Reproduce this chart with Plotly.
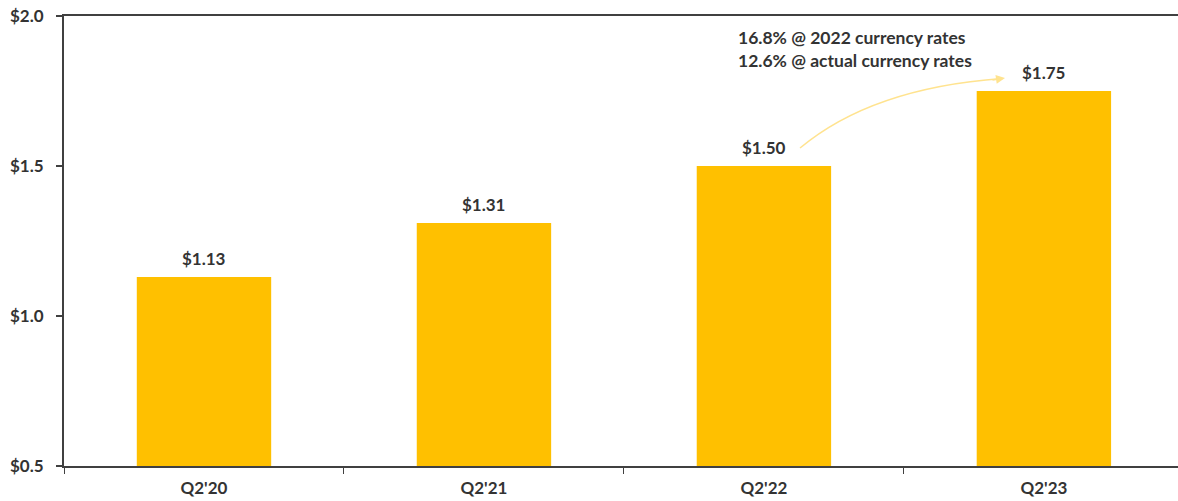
import plotly.graph_objects as go

categories = ["Q2'20", "Q2'21", "Q2'22", "Q2'23"]
values = [1.13, 1.31, 1.50, 1.75]
labels = ["$1.13", "$1.31", "$1.50", "$1.75"]
tick_vals = [0.5, 1.0, 1.5, 2.0]
tick_text = ["$0.5", "$1.0", "$1.5", "$2.0"]
note_lines = ["16.8% @ 2022 currency rates", "12.6% @ actual currency rates"]

FONT = "Lato, 'Open Sans', sans-serif"
TXT = "#333333"
BAR = "#FFC000"
ARROW = "#FFE38F"

fig = go.Figure()
fig.add_trace(go.Bar(
    x=categories, y=values, marker=dict(color=BAR, line=dict(width=0)),
    width=0.48, hoverinfo="skip",
))

for c, v, t in zip(categories, values, labels):
    fig.add_annotation(x=c, y=v, text=f"<b>{t}</b>", showarrow=False,
                       yanchor="bottom", yshift=6,
                       font=dict(family=FONT, size=17, color=TXT))

fig.add_annotation(xref="paper", yref="paper", x=0.603, y=0.98,
                   xanchor="left", yanchor="top", align="left",
                   text="<b>" + "<br>".join(note_lines) + "</b>", showarrow=False,
                   font=dict(family=FONT, size=17.5, color=TXT))

# curved arrow from Q2'22 label to Q2'23 label
fig.add_shape(type="path", xref="paper", yref="y",
              path="M 0.6607 1.56 Q 0.725 1.76 0.842 1.792",
              line=dict(color=ARROW, width=1.5))
fig.add_annotation(xref="paper", yref="y", x=0.8447, y=1.793, text="",
                   showarrow=True, arrowhead=2, arrowsize=1.2, arrowwidth=1.5,
                   arrowcolor=ARROW, ax=-14, ay=2, standoff=0)

fig.update_layout(
    width=1178, height=501,
    margin=dict(l=64, r=0, t=16, b=35, autoexpand=False),
    plot_bgcolor="white", paper_bgcolor="white",
    showlegend=False,
    font=dict(family=FONT, size=17, color=TXT),
    xaxis=dict(
        range=[-0.5, 3.479], showline=True, linecolor="#404040", linewidth=2,
        mirror=True, ticks="outside", tickson="boundaries", ticklen=6,
        tickcolor="#404040", tickwidth=1, showgrid=False, automargin=False,
        tickfont=dict(family=FONT, size=17, color=TXT, weight="bold"),
        ticklabelstandoff=6,
    ),
    yaxis=dict(
        range=[0.5, 2.0], tickvals=tick_vals, ticktext=tick_text,
        showline=True, linecolor="#404040", linewidth=2, showgrid=False,
        zeroline=False, ticks="outside", ticklen=6, tickcolor="#404040",
        tickwidth=1.5, mirror=False, automargin=False, ticklabelstandoff=9,
        tickfont=dict(family=FONT, size=17, color=TXT, weight="bold"),
    ),
)

fig.write_html("out.html", config={"displayModeBar": False},
               post_script="document.body.style.margin='0';"
                           "document.body.style.overflow='hidden';")
